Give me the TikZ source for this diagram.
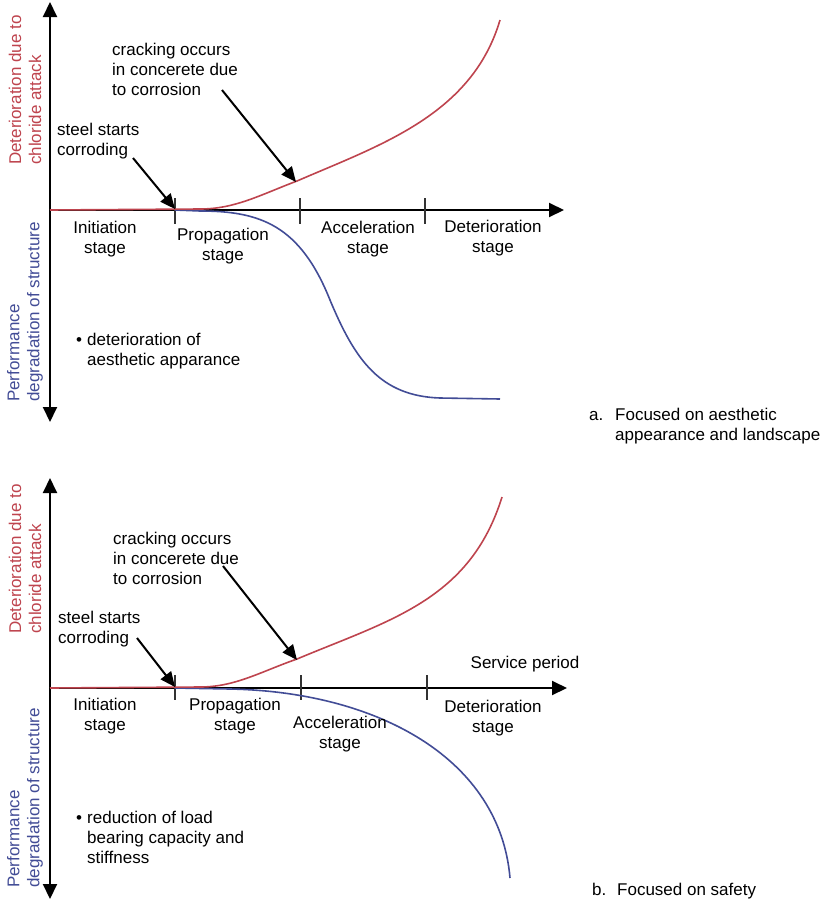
\documentclass[tikz,border=0pt]{standalone}
\usepackage{fontspec}
\setmainfont{Liberation Sans}
\usetikzlibrary{arrows.meta}
\definecolor{redc}{RGB}{190,68,78}
\definecolor{bluec}{RGB}{66,76,150}
\begin{document}
\begin{tikzpicture}[x=1pt,y=-1pt,
  axis/.style={line width=2pt,black},
  bigtip/.style={-{Triangle[length=15pt,width=14pt]}},
  bothtip/.style={{Triangle[length=15pt,width=14pt]}-{Triangle[length=15pt,width=14pt]}},
  tickline/.style={line width=2pt,black!80},
  note/.style={line width=2pt,black,-{Triangle[length=15pt,width=13pt]}},
  redcurve/.style={line width=1.6pt,redc},
  bluecurve/.style={line width=1.6pt,bluec},
  txt/.style={inner sep=0pt,font=\fontsize{17}{20}\selectfont},
  lbl/.style={txt,align=left,anchor=base west},
  stg/.style={txt,align=center,anchor=base},
  axlbl/.style={txt,align=left,rotate=90,anchor=west}]
\useasboundingbox (0,0) rectangle (826,900);

% ================= top panel =================
\coordinate (aTop) at (50,2);
\coordinate (aBot) at (50,422);
\coordinate (aO) at (50,210);
\coordinate (aEnd) at (564,210);
\draw[axis,bothtip] (aTop) -- (aBot);
\draw[axis,bigtip] (aO) -- (aEnd);
\draw[tickline] (175,198) -- (175,224);
\draw[tickline] (300,198) -- (300,224);
\draw[tickline] (425,198) -- (425,224);

\draw[bluecurve] (175,210) -- (200,211) .. controls (260,211) and (300,225) .. (330,300)
  .. controls (355,360) and (380,396) .. (440,398) -- (500,399);
\draw[redcurve] (aO) -- (200,209) .. controls (235,209) and (260,195) .. (297,181)
  .. controls (380,145) and (472,115) .. (500,20);

\node[axlbl,text=redc] (aYup) at (25,165) {Deterioration due to\\chloride attack};
\node[axlbl,text=bluec] (aYdn) at (25,402) {Performance\\degradation of structure};

\node[lbl] (aCrack) at (112,95) {cracking occurs\\in concerete due\\to corrosion};
\node[lbl] (aSteel) at (57,155) {steel starts\\corroding};
\coordinate (aCt) at (222,90);
\coordinate (aCh) at (296,182);
\coordinate (aSt) at (133,158);
\coordinate (aSh) at (175,209);
\draw[note] (aCt) -- (aCh);
\draw[note] (aSt) -- (aSh);

\node[stg] (aInit) at (105,253) {Initiation\\stage};
\node[stg] (aProp) at (223,260) {Propagation\\stage};
\node[stg] (aAcc) at (368,253) {Acceleration\\stage};
\node[stg] (aDet) at (493,252) {Deterioration\\stage};

\node[txt,anchor=base] (aBul) at (79,345) {\textbullet};
\node[lbl] (aBtxt) at (87,365) {deterioration of\\aesthetic apparance};

\node[txt,anchor=base west] (aCapL) at (589,420) {a.};
\node[lbl] (aCap) at (615,440) {Focused on aesthetic\\appearance and landscape};

% ================= bottom panel =================
\coordinate (bTop) at (50,478);
\coordinate (bBot) at (50,899);
\coordinate (bO) at (50,688);
\coordinate (bEnd) at (567,688);
\draw[axis,bothtip] (bTop) -- (bBot);
\draw[axis,bigtip] (bO) -- (bEnd);
\draw[tickline] (175,675) -- (175,700);
\draw[tickline] (301,675) -- (301,700);
\draw[tickline] (427,675) -- (427,700);

\draw[bluecurve] (175,688) -- (230,689) .. controls (380,692) and (500,760) .. (510,878);
\draw[redcurve] (bO) -- (200,687) .. controls (235,687) and (260,672) .. (297,659)
  .. controls (390,620) and (470,600) .. (502,497);

\node[axlbl,text=redc] (bYup) at (25,634) {Deterioration due to\\chloride attack};
\node[axlbl,text=bluec] (bYdn) at (25,888) {Performance\\degradation of structure};

\node[lbl] (bCrack) at (113,584) {cracking occurs\\in concerete due\\to corrosion};
\node[lbl] (bSteel) at (58,643) {steel starts\\corroding};
\coordinate (bCt) at (223,566);
\coordinate (bCh) at (297,660);
\coordinate (bSt) at (137,638);
\coordinate (bSh) at (175,687);
\draw[note] (bCt) -- (bCh);
\draw[note] (bSt) -- (bSh);

\node[txt,anchor=base] (bServ) at (525,668) {Service period};

\node[stg] (bInit) at (105,730) {Initiation\\stage};
\node[stg] (bProp) at (235,730) {Propagation\\stage};
\node[stg] (bAcc) at (340,748) {Acceleration\\stage};
\node[stg] (bDet) at (493,732) {Deterioration\\stage};

\node[txt,anchor=base] (bBul) at (79,823) {\textbullet};
\node[lbl] (bBtxt) at (87,863) {reduction of load\\bearing capacity and\\stiffness};

\node[txt,anchor=base west] (bCapL) at (592,895) {b.};
\node[txt,anchor=base west] (bCap) at (617,895) {Focused on safety};
\end{tikzpicture}
\end{document}
